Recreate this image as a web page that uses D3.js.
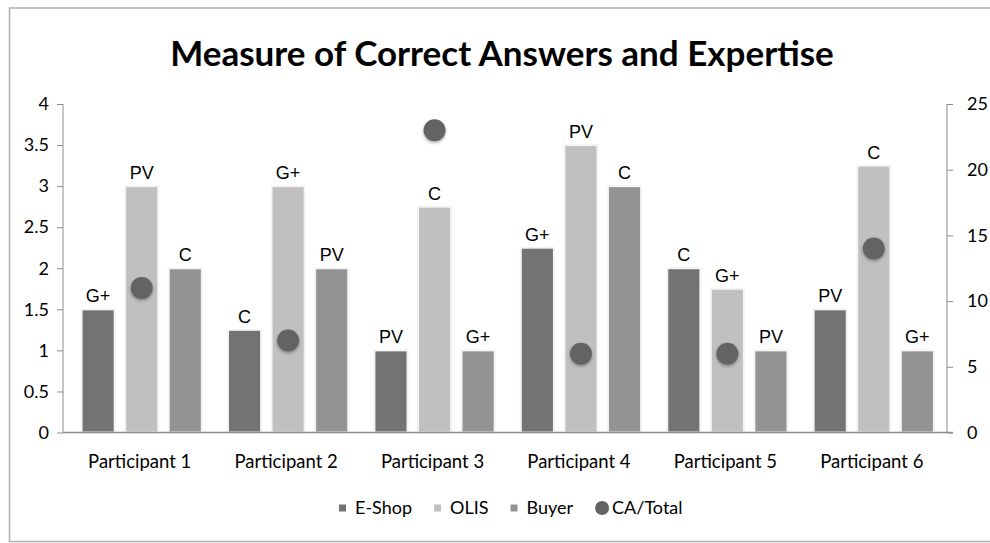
<!DOCTYPE html>
<html>
<head>
<meta charset="utf-8">
<script src="https://cdn.jsdelivr.net/npm/d3@7"></script>
<style>
  body { margin: 0; background: #fff; }
  svg { display: block; }
  .tick text { font-family: Lato, "Open Sans", sans-serif; font-size: 18px; fill: #000; }
  .axis path, .axis line { stroke: #8c8c8c; }
</style>
</head>
<body>
<svg id="chart" width="990" height="543"></svg>
<script>
var participants = ["Participant 1", "Participant 2", "Participant 3", "Participant 4", "Participant 5", "Participant 6"];
var series = ["E-Shop", "OLIS", "Buyer"];
var eshop = [1.5, 1.25, 1, 2.25, 2, 1.5];
var olis  = [3, 3, 2.75, 3.5, 1.75, 3.25];
var buyer = [2, 2, 1, 3, 1, 1];
var eshopLabels = ["G+", "C", "PV", "G+", "C", "PV"];
var olisLabels  = ["PV", "G+", "C", "PV", "G+", "C"];
var buyerLabels = ["C", "PV", "G+", "C", "PV", "G+"];
var caTotal = [11, 7, 23, 6, 6, 14];
var leftTicks = [0, 0.5, 1, 1.5, 2, 2.5, 3, 3.5, 4];
var rightTicks = [0, 5, 10, 15, 20, 25];

var colors = { "E-Shop": "#737373", "OLIS": "#c0c0c0", "Buyer": "#939393", "CA/Total": "#636363" };

var svg = d3.select("#chart");

// frame
svg.append("rect")
  .attr("x", 9.5).attr("y", 8)
  .attr("width", 1000).attr("height", 533.5)
  .attr("fill", "#fff")
  .attr("stroke", "#b0b0b0")
  .attr("stroke-width", 1.5);

var defs = svg.append("defs");
var f = defs.append("filter").attr("id", "shadow")
  .attr("x", "-50%").attr("y", "-50%").attr("width", "200%").attr("height", "200%");
f.append("feDropShadow").attr("dx", 0).attr("dy", 1.5)
  .attr("stdDeviation", 1.5).attr("flood-color", "#000").attr("flood-opacity", 0.35);

var x0 = 63, x1 = 947, yBase = 432.5, yTop = 104;

var x = d3.scaleBand().domain(participants).range([68.5, 947]);
var xs = d3.scaleBand().domain(series).range([0, x.bandwidth()])
  .paddingInner(0.24).paddingOuter(0.3);

var yL = d3.scaleLinear().domain([0, 4]).range([yBase, yTop]);
var yR = d3.scaleLinear().domain([0, 25]).range([yBase, yTop]);

// axes
svg.append("g").attr("class", "axis")
  .attr("transform", "translate(" + x0 + ",0)")
  .call(d3.axisLeft(yL).tickValues(leftTicks).tickSize(6).tickPadding(8)
    .tickFormat(function (d) { return d; }))
  .call(function (g) { g.select(".domain").remove(); });
svg.append("line")
  .attr("x1", x0).attr("x2", x0).attr("y1", yTop).attr("y2", yBase)
  .attr("stroke", "#8c8c8c");

svg.append("g").attr("class", "axis")
  .attr("transform", "translate(" + x1 + ",0)")
  .call(d3.axisRight(yR).tickValues(rightTicks).tickSize(6).tickPadding(14))
  .call(function (g) { g.select(".domain").remove(); });
svg.append("line")
  .attr("x1", x1).attr("x2", x1).attr("y1", yTop).attr("y2", yBase)
  .attr("stroke", "#8c8c8c");

// bars
var table = [];
participants.forEach(function (p, i) {
  table.push({ p: p, s: "E-Shop", v: eshop[i], label: eshopLabels[i] });
  table.push({ p: p, s: "OLIS", v: olis[i], label: olisLabels[i] });
  table.push({ p: p, s: "Buyer", v: buyer[i], label: buyerLabels[i] });
});

svg.append("g").selectAll("rect")
  .data(table).enter()
  .append("rect")
  .attr("x", function (d) { return x(d.p) + xs(d.s); })
  .attr("y", function (d) { return yL(d.v); })
  .attr("width", xs.bandwidth())
  .attr("height", function (d) { return yBase - yL(d.v); })
  .attr("fill", function (d) { return colors[d.s]; })
  .attr("stroke", "#f4f4f4")
  .attr("stroke-width", 2);

svg.append("g").selectAll("text")
  .data(table).enter()
  .append("text")
  .attr("x", function (d) { return x(d.p) + xs(d.s) + xs.bandwidth() / 2; })
  .attr("y", function (d) { return yL(d.v) - 7; })
  .attr("text-anchor", "middle")
  .attr("font-family", "'Liberation Sans', Arial, sans-serif")
  .attr("font-size", 18)
  .text(function (d) { return d.label; });

// baseline
svg.append("line")
  .attr("x1", x0).attr("x2", x1 + 6).attr("y1", yBase).attr("y2", yBase)
  .attr("stroke", "#8c8c8c").attr("stroke-width", 1.5);

// CA/Total points
svg.append("g").selectAll("circle")
  .data(caTotal).enter()
  .append("circle")
  .attr("cx", function (d, i) { return x(participants[i]) + xs("OLIS") + xs.bandwidth() / 2; })
  .attr("cy", function (d) { return yR(d); })
  .attr("r", 11)
  .attr("fill", colors["CA/Total"])
  .attr("filter", "url(#shadow)");

// category labels
svg.append("g").selectAll("text")
  .data(participants).enter()
  .append("text")
  .attr("x", function (d) { return x(d) + x.bandwidth() / 2 - 2; })
  .attr("y", 468)
  .attr("text-anchor", "middle")
  .attr("font-family", "Lato, sans-serif")
  .attr("font-size", 18.5)
  .text(function (d) { return d; });

// title
svg.append("text")
  .attr("x", 502).attr("y", 66)
  .attr("text-anchor", "middle")
  .attr("font-family", "Lato, sans-serif")
  .attr("font-weight", 700)
  .attr("font-size", 35)
  .text("Measure of Correct Answers and Expertise");

// legend
var legendItems = ["E-Shop", "OLIS", "Buyer", "CA/Total"];
var legend = svg.append("g").attr("transform", "translate(0,508)");
var lx = 339;
legendItems.forEach(function (name) {
  var g = legend.append("g").attr("transform", "translate(" + lx + ",0)");
  var gap;
  if (name == "CA/Total") {
    g.append("circle").attr("cx", 7).attr("cy", 0).attr("r", 7).attr("fill", colors[name]);
    gap = 17;
  } else {
    g.append("rect").attr("x", 0).attr("y", -3.5).attr("width", 7).attr("height", 7).attr("fill", colors[name]);
    gap = 16;
  }
  var t = g.append("text").attr("x", gap).attr("y", 6)
    .attr("font-family", "Lato, sans-serif").attr("font-size", 18)
    .text(name);
  lx += gap + t.node().getComputedTextLength() + 22;
});
</script>
</body>
</html>
